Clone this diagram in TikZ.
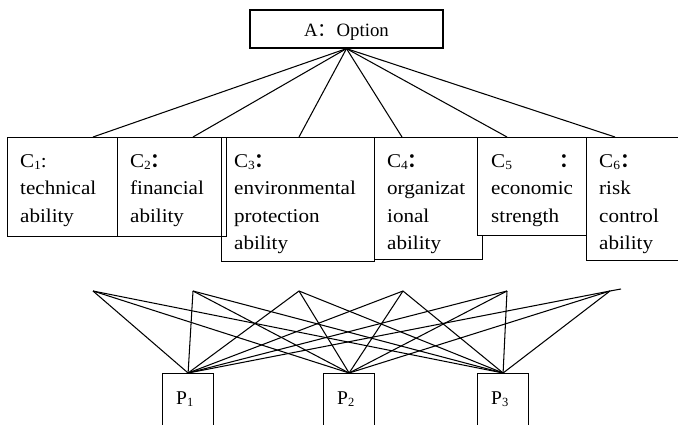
\documentclass[tikz,border=0pt]{standalone}
\usepackage{fontspec}
\setmainfont{Liberation Serif}
\newfontfamily\boxfont{Liberation Serif}[FakeStretch=1.08]
\newfontfamily\cjk{Noto Sans CJK SC}[BoldFont={* Bold}]
\usetikzlibrary{calc}
% lowered small index digit
\newcommand\sbs[1]{\raisebox{-2.5pt}{\fontsize{12.5}{12.5}\selectfont #1}}
% wide colon
\newcommand\wcolon{{\cjk\bfseries ：}}

\begin{document}
\begin{tikzpicture}[x=1pt,y=-1pt,
  frame/.style={draw, line width=1.2pt, inner sep=0pt, anchor=north west},
  boxtext/.style={align=left, inner sep=0pt, anchor=north west,
    font=\boxfont\fontsize{19.5}{27.5}\selectfont},
  ptext/.style={inner sep=0pt, anchor=base west, font=\fontsize{19.5}{21}\selectfont},
  link/.style={line width=1.05pt},
]
\useasboundingbox (0,0) rectangle (678,424);

% goal node
\node[draw, line width=1.2pt, minimum width=193pt, minimum height=38pt,
  text height=16pt, text depth=1pt, inner sep=0pt,
  font=\fontsize{18.8}{20}\selectfont] (a) at (346.5,29) {A{\cjk ：}Option};

% criteria boxes
\node[frame, minimum width=110pt, minimum height=99pt] (c1) at (7,137) {};
\node[frame, minimum width=109pt, minimum height=99pt] (c2) at (117,137) {};
\node[frame, minimum width=153pt, minimum height=124pt] (c3) at (221,137) {};
\node[frame, minimum width=108pt, minimum height=122pt] (c4) at (374,137) {};
\node[frame, fill=white, minimum width=109pt, minimum height=98pt] (c5) at (477,137) {};
\node[frame, minimum width=100pt, minimum height=123pt] (c6) at (586,137) {};

\node[boxtext] (c1t) at ($(c1.north west)+(13,17)$)
  {\rule{0pt}{13pt}C\sbs{1}:\\technical\\ability};
\node[boxtext] (c2t) at ($(c2.north west)+(13,17)$)
  {\rule{0pt}{13pt}C\sbs{2}\wcolon\\financial\\ability};
\node[boxtext] (c3t) at ($(c3.north west)+(13,17)$)
  {\rule{0pt}{13pt}C\sbs{3}\wcolon\\environmental\\protection\\ability};
\node[boxtext] (c4t) at ($(c4.north west)+(13,17)$)
  {\rule{0pt}{13pt}C\sbs{4}\wcolon\\organizat\\ional\\ability};
\node[boxtext] (c5t) at ($(c5.north west)+(14,17)$)
  {\rule{0pt}{13pt}C\sbs{5}\hspace{47pt}\wcolon\\economic\\strength};
\node[boxtext] (c6t) at ($(c6.north west)+(13,17)$)
  {\rule{0pt}{13pt}C\sbs{6}\wcolon\\risk\\control\\ability};

% attachment points on the criteria boxes
\coordinate (c1top) at (93,137);
\coordinate (c2top) at (193,137);
\coordinate (c3top) at (299,137);
\coordinate (c4top) at (402,137);
\coordinate (c5top) at (507,137);
\coordinate (c6top) at (615,137);
\foreach \i in {1,...,6} \draw[link] (a.south) -- (c\i top);

% alternatives
\node[frame, minimum width=51pt, minimum height=70pt] (p1) at (162,373) {};
\node[frame, minimum width=51pt, minimum height=70pt] (p2) at (323,373) {};
\node[frame, minimum width=51pt, minimum height=70pt] (p3) at (477,373) {};
\node[ptext] (p1t) at ($(p1.north west)+(14,31)$) {P\sbs{1}};
\node[ptext] (p2t) at ($(p2.north west)+(14,31)$) {P\sbs{2}};
\node[ptext] (p3t) at ($(p3.north west)+(14,31)$) {P\sbs{3}};

% criterion points above the alternatives
\coordinate (t1) at (93,291);
\coordinate (t2) at (193,291);
\coordinate (t3) at (299,291);
\coordinate (t4) at (403,291);
\coordinate (t5) at (507,291);
\coordinate (t6) at (610,291);
\coordinate (tail) at (621,289);
\foreach \i in {1,...,6}
  \foreach \j in {1,2,3}
    \draw[link] (t\i) -- (p\j.north);
\draw[link] (t6) -- (tail);
\end{tikzpicture}
\end{document}
